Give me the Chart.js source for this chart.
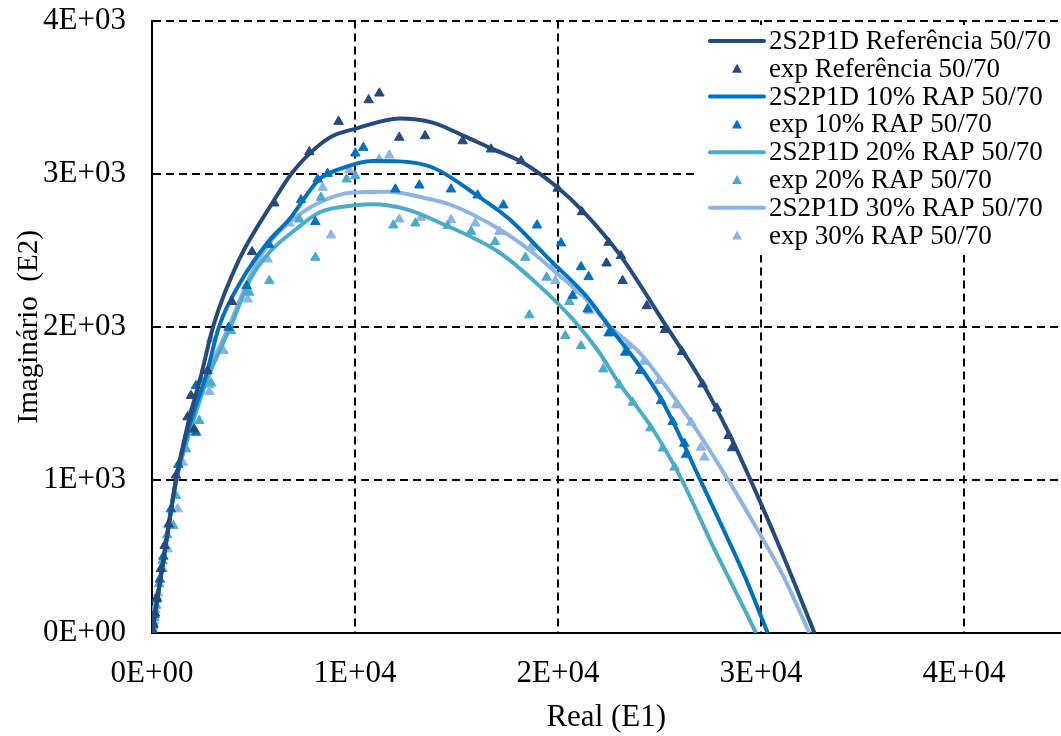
<!DOCTYPE html>
<html>
<head>
<meta charset="utf-8">
<script src="https://cdn.jsdelivr.net/npm/chart.js@4"></script>
<style>
  html, body { margin: 0; padding: 0; background: #fff; overflow: hidden; }
  #wrap { width: 1061px; height: 736px; overflow: hidden; }
</style>
</head>
<body>
<div id="wrap"><canvas id="cole" width="1067" height="736"></canvas></div>
<script>
// 2S2P1D model curves, [E1, E2]
const refCurve = [[0,0],[600,500],[1180,1000],[1800,1380],[2414,1680],[3020,2006],[4300,2441],[5941,2811],[6847,2996],[8000,3160],[8897,3246],[10049,3294],[12182,3360],[13823,3333],[15300,3250],[16616,3170],[18256,3072],[19980,2909],[21212,2757],[23020,2474],[25320,2006],[26960,1669],[28400,1310],[29780,910],[31200,470],[32630,0]];
const rap10Curve = [[0,0],[650,560],[1200,1010],[1900,1380],[2660,1680],[3315,2006],[4400,2300],[5695,2550],[6764,2702],[8241,2963],[9227,3029],[10867,3083],[12182,3080],[13823,3040],[16040,2855],[17611,2702],[19571,2440],[21379,2202],[22527,2000],[24005,1745],[24990,1549],[25810,1340],[26900,1030],[28100,690],[29260,352],[30325,0]];
const rap20Curve = [[0,0],[650,560],[1200,1000],[1950,1350],[2724,1658],[3892,2006],[4800,2300],[5777,2485],[7094,2637],[8241,2746],[10049,2794],[10867,2800],[12512,2768],[14153,2681],[17109,2485],[19080,2267],[20720,2050],[22035,1832],[22857,1660],[24660,1332],[26060,1010],[26800,805],[27616,570],[28438,352],[29261,135],[29754,0]];
const rap30Curve = [[0,0],[650,560],[1200,1000],[1950,1370],[2700,1680],[3800,2006],[4900,2350],[5800,2550],[6764,2681],[8241,2811],[9882,2877],[11690,2881],[13330,2844],[14646,2800],[17109,2637],[18750,2485],[19900,2354],[21379,2180],[22527,2006],[24005,1832],[24990,1669],[26470,1397],[28355,1005],[29754,690],[31100,370],[32380,0]];

// experimental points, [E1, E2]
const refExp = [[20,15],[70,60],[140,130],[240,230],[440,420],[620,570],[820,710],[1180,1030],[1750,1410],[1920,1550],[2080,1330],[2740,1712],[3940,2163],[4930,2489],[6025,2807],[7750,3142],[9190,3340],[10670,3481],[11200,3525],[12180,3236],[13450,3246],[15300,3213],[16700,3159],[18180,3083],[19980,2903],[21180,2750],[22390,2415],[22490,2550],[23100,2463],[23180,2300],[24370,2136],[25270,1980],[26110,1836],[27120,1625],[27830,1467],[28400,1288],[28570,1208]];
const rap10Exp = [[20,20],[60,55],[130,120],[230,220],[380,350],[560,500],[936,809],[1300,1100],[2166,1310],[2166,1614],[3773,1995],[4660,2267],[5778,2535],[7340,2828],[8044,2685],[8158,2963],[8651,3000],[10015,3133],[10410,3170],[11985,2898],[13167,2924],[14729,2898],[16040,2859],[17306,2794],[18965,2663],[20148,2546],[20720,2202],[21133,2391],[21458,2115],[21507,2326],[22493,1958],[23315,1832],[24039,1712],[25074,1516],[25645,1379],[26222,1238],[26337,1168]];
const rap20Exp = [[15,10],[50,45],[110,100],[200,180],[350,320],[520,470],[750,640],[1050,700],[1182,896],[1675,1201],[2330,1386],[2414,1653],[2907,1632],[3891,1973],[4793,2224],[5778,2300],[7256,2702],[8044,2452],[8323,2844],[9586,2963],[10015,2985],[11887,2663],[12970,2676],[14562,2659],[15714,2622],[16897,2554],[18389,2452],[18586,2076],[19438,2322],[20360,1941],[20557,2163],[21133,1875],[22230,1723],[23020,1619],[23676,1506],[24553,1338],[25164,1206],[25740,1082],[26282,1162]];
const rap30Exp = [[10,5],[40,30],[90,80],[170,150],[300,260],[526,418],[772,548],[1264,809],[1510,1114],[2000,1462],[2823,1575],[2823,1619],[2907,1919],[3527,1843],[4710,2180],[5695,2441],[6764,2676],[8405,2909],[8818,2598],[9720,3024],[11197,3094],[11690,3120],[12182,2702],[13250,2713],[14729,2698],[15926,2676],[17109,2622],[18670,2518],[19768,2398],[19866,2300],[20885,2235],[21540,2104],[22362,2017],[23397,1875],[24217,1773],[24990,1647],[25813,1488],[26552,1375],[27045,1212],[27210,1147]];

const seriesNames = ['2S2P1D Referência 50/70', 'exp Referência 50/70', '2S2P1D 10% RAP 50/70', 'exp 10% RAP 50/70', '2S2P1D 20% RAP 50/70', 'exp 20% RAP 50/70', '2S2P1D 30% RAP 50/70', 'exp 30% RAP 50/70'];
const seriesColors = ['#254a7e', '#0070c0', '#4bacc6', '#8db4e2'];
const seriesData = [refCurve, refExp, rap10Curve, rap10Exp, rap20Curve, rap20Exp, rap30Curve, rap30Exp];

const xTicks = [0, 10000, 20000, 30000, 40000];
const yTicks = [0, 1000, 2000, 3000, 4000];

const serif = '"Liberation Serif", "Times New Roman", serif';

function sci(v) {
    if (Math.abs(v) < 1e-9) return '0E+00';
    const e = Math.floor(Math.log10(Math.abs(v)) + 1e-9);
    const m = Math.round(v / Math.pow(10, e));
    return m + 'E+' + String(e).padStart(2, '0');
}

const datasets = seriesData.map((pts, i) => {
    const color = seriesColors[Math.floor(i / 2)];
    const isLine = i % 2 === 0;
    return {
        label: seriesNames[i],
        data: pts.map(p => ({ x: p[0], y: p[1] })),
        showLine: isLine,
        borderColor: color,
        backgroundColor: color,
        borderWidth: isLine ? 4 : 1,
        cubicInterpolationMode: 'monotone',
        pointRadius: isLine ? 0 : 5.5,
        pointStyle: 'triangle',
        pointBorderWidth: 1,
        pointBorderColor: color,
        pointBackgroundColor: color
    };
});

// legend box sitting inside the plot, like the original
const boxLegend = {
    id: 'boxLegend',
    afterDraw(chart) {
        const ctx = chart.ctx;
        ctx.save();
        ctx.fillStyle = '#fff';
        ctx.fillRect(697, 25, 370, 230);
        ctx.font = '27px ' + serif;
        ctx.textBaseline = 'middle';
        ctx.textAlign = 'left';
        chart.data.datasets.forEach((ds, i) => {
            const y = 41 + i * 27.8;
            ctx.strokeStyle = ds.borderColor;
            ctx.fillStyle = ds.borderColor;
            if (ds.showLine) {
                ctx.lineWidth = 4;
                ctx.lineCap = 'round';
                ctx.beginPath();
                ctx.moveTo(710, y);
                ctx.lineTo(764, y);
                ctx.stroke();
            } else {
                ctx.beginPath();
                ctx.moveTo(737, y - 5);
                ctx.lineTo(742, y + 4);
                ctx.lineTo(732, y + 4);
                ctx.closePath();
                ctx.fill();
            }
            ctx.fillStyle = '#000';
            ctx.fillText(ds.label, 769, y + 1);
        });
        ctx.restore();
    }
};

new Chart(document.getElementById('cole'), {
    type: 'scatter',
    data: { datasets: datasets },
    plugins: [boxLegend],
    options: {
        responsive: false,
        animation: false,
        devicePixelRatio: 1,
        layout: { padding: 0 },
        plugins: {
            legend: { display: false },
            tooltip: { enabled: false }
        },
        scales: {
            x: {
                type: 'linear',
                min: 0,
                max: 44750,
                afterBuildTicks: s => { s.ticks = xTicks.map(v => ({ value: v })); },
                afterFit: s => { s.height = 103; s.paddingLeft = 0; s.paddingRight = 0; },
                ticks: {
                    autoSkip: false,
                    color: '#000',
                    padding: 22,
                    maxRotation: 0,
                    font: { family: serif, size: 31 },
                    callback: v => sci(v)
                },
                grid: { color: '#000', lineWidth: 2, drawTicks: false },
                border: { display: true, color: '#000', width: 2, dash: [8, 5] },
                title: {
                    display: true,
                    text: 'Real (E1)',
                    color: '#000',
                    font: { family: serif, size: 31 },
                    padding: { top: 0, bottom: 0 }
                }
            },
            y: {
                type: 'linear',
                min: 0,
                max: 4000,
                afterBuildTicks: s => { s.ticks = yTicks.map(v => ({ value: v })); },
                afterFit: s => { s.width = 152; s.paddingTop = 20.5; s.paddingBottom = 0; },
                ticks: {
                    autoSkip: false,
                    color: '#000',
                    padding: 26,
                    font: { family: serif, size: 31, lineHeight: 1 },
                    callback: v => sci(v)
                },
                grid: { color: '#000', lineWidth: 2, drawTicks: false },
                border: { display: true, color: '#000', width: 2, dash: [8, 5] },
                title: {
                    display: true,
                    text: 'Imaginário  (E2)',
                    color: '#000',
                    font: { family: serif, size: 29 },
                    padding: { top: 12, bottom: 0 }
                }
            }
        }
    }
});
</script>
</body>
</html>
